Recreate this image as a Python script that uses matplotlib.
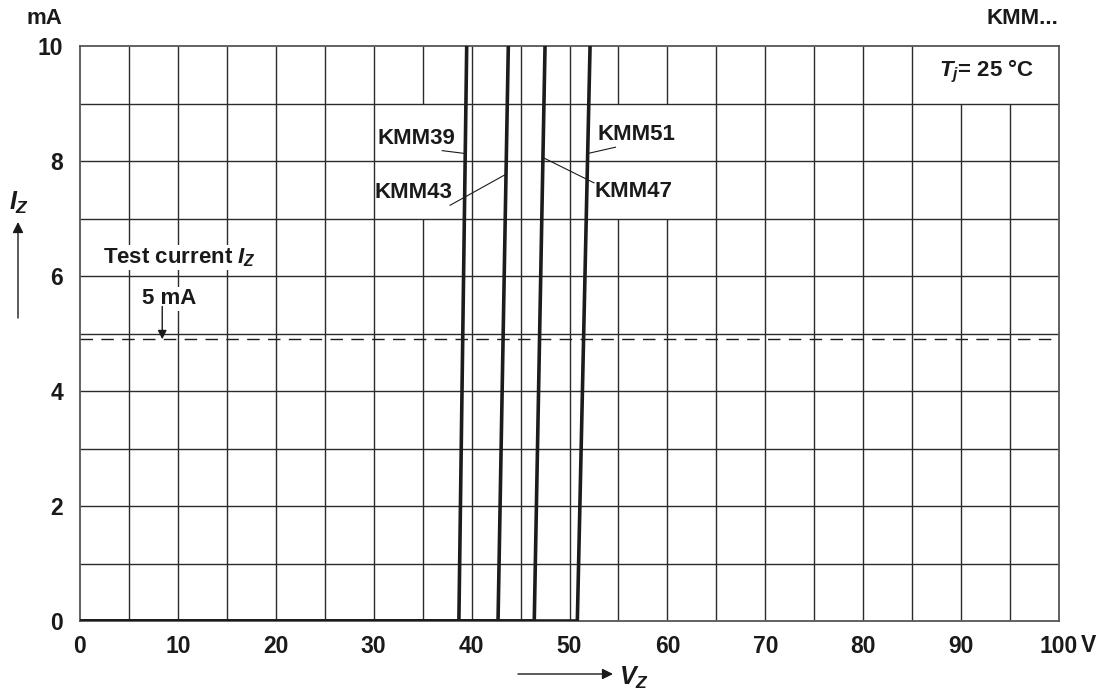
import numpy as np
import matplotlib
matplotlib.use("Agg")
import matplotlib.pyplot as plt
from matplotlib.patches import Rectangle

plt.rcParams['font.family'] = ['Liberation Sans', 'DejaVu Sans']
plt.rcParams['font.weight'] = 'bold'
plt.rcParams['mathtext.fontset'] = 'custom'
plt.rcParams['mathtext.it'] = 'Liberation Sans:italic:bold'
plt.rcParams['mathtext.rm'] = 'Liberation Sans:bold'

# Zener characteristics: V_Z at I_Z = 0, 0 and 10 mA
iz_points = [0, 0, 10]
vz_kmm39 = [0, 38.7, 39.5]
vz_kmm43 = [0, 42.7, 43.75]
vz_kmm47 = [0, 46.4, 47.5]
vz_kmm51 = [0, 50.8, 52.1]
names = ['KMM39', 'KMM43', 'KMM47', 'KMM51']
test_current = 4.9

x_ticks = [0, 10, 20, 30, 40, 50, 60, 70, 80, 90, 100]
y_ticks = [0, 2, 4, 6, 8, 10]

W, H = 1099, 693
fig = plt.figure(figsize=(W / 100, H / 100), dpi=100)
ax = fig.add_axes([80 / W, (H - 621) / H, 979 / W, 575 / H])
ax.set_xlim(0, 100)
ax.set_ylim(0, 10)

gc = '#2b2b2b'
ax.vlines(np.arange(5, 100, 5), 0, 10, color=gc, lw=1.0, zorder=1)
# blank patches behind the labels (hide the vertical grid only)
for (x0, y0, w, h) in [(31.0, 7, 6.9, 2), (52.6, 7, 9.0, 2), (86.5, 9, 13.4, 1)]:
    ax.add_patch(Rectangle((x0, y0), w, h, facecolor='white', edgecolor='none', zorder=1.5))
ax.hlines(np.arange(1, 10, 1), 0, 100, color=gc, lw=1.0, zorder=2)

for s in ax.spines.values():
    s.set_color('#555555')
    s.set_linewidth(1.3)
    s.set_zorder(2.5)

curves = [vz_kmm39, vz_kmm43, vz_kmm47, vz_kmm51]
for vz, name in zip(curves, names):
    ax.plot(vz, iz_points, color='#1c1c1c', lw=2.6, solid_capstyle='butt', zorder=3, label=name)

ax.axhline(test_current, color='#1c1c1c', lw=1.0, dashes=(9, 6), zorder=2.2)

ax.set_xticks(x_ticks)
ax.set_xticklabels([str(v) for v in x_ticks])
ax.set_yticks(y_ticks)
ax.set_yticklabels([str(v) for v in y_ticks])
ax.tick_params(axis='both', length=0, labelsize=16.5, colors='#1a1a1a')
ax.tick_params(axis='x', pad=10)
ax.tick_params(axis='y', pad=12)
ax.annotate('V', xy=(100, 0), xytext=(16, -17.5), textcoords='offset points',
            ha='left', va='center', fontsize=16.5, color='#1a1a1a')

# curve labels with leader lines
tk = dict(fontsize=16, color='#1a1a1a', va='center')
ax.text(30.35, 8.4, 'KMM39', ha='left', **tk)
ax.text(30.1, 7.46, 'KMM43', ha='left', **tk)
ax.text(52.9, 8.46, 'KMM51', ha='left', **tk)
ax.text(52.6, 7.47, 'KMM47', ha='left', **tk)

lk = dict(color='#1c1c1c', lw=0.8, zorder=2.8)
i = 8.13
ax.plot([37.0, np.interp(i, iz_points[1:], vz_kmm39[1:])], [8.18, i], **lk)
i = 7.77
ax.plot([37.8, np.interp(i, iz_points[1:], vz_kmm43[1:])], [7.23, i], **lk)
i = 8.06
ax.plot([np.interp(i, iz_points[1:], vz_kmm47[1:]), 52.5], [i, 7.62], **lk)
i = 8.13
ax.plot([np.interp(i, iz_points[1:], vz_kmm51[1:]), 54.7], [i, 8.24], **lk)

# test current annotation
ax.text(2.35, 6.32, 'Test current $I_Z$', ha='left', va='center', fontsize=16,
        color='#1a1a1a', zorder=1.7,
        bbox=dict(facecolor='white', edgecolor='none', pad=1.0))
ax.text(9.1, 5.6, '5 mA', ha='center', va='center', fontsize=16, color='#1a1a1a',
        zorder=1.7, bbox=dict(facecolor='white', edgecolor='none', pad=1.0))
ax.annotate('', xy=(8.4, test_current), xytext=(8.4, 5.47),
            arrowprops=dict(arrowstyle='-|>', color='#1a1a1a', lw=1.0,
                            mutation_scale=13, shrinkA=0, shrinkB=0), zorder=3)

ax.text(92.6, 9.55, '$T_j$= 25 °C', ha='center', va='center', fontsize=16, color='#1a1a1a')

# axis captions outside the frame
fig.text(44 / W, 1 - 18 / H, 'mA', ha='center', va='center', fontsize=16, color='#1a1a1a')
fig.text(1058 / W, 1 - 18 / H, 'KMM...', ha='right', va='center', fontsize=16, color='#1a1a1a')

fig.text(19 / W, 1 - 203 / H, '$I_Z$', ha='center', va='center', fontsize=18, color='#1a1a1a')
ax.annotate('', xy=(18, H - 222), xycoords='figure pixels', xytext=(18, H - 318),
            textcoords='figure pixels',
            arrowprops=dict(arrowstyle='-|>', color='#1a1a1a', lw=1.0, mutation_scale=16,
                            shrinkA=0, shrinkB=0), annotation_clip=False)

fig.text(634 / W, 1 - 678 / H, '$V_Z$', ha='center', va='center', fontsize=18, color='#1a1a1a')
ax.annotate('', xy=(613, H - 674), xycoords='figure pixels', xytext=(518, H - 674),
            textcoords='figure pixels',
            arrowprops=dict(arrowstyle='-|>', color='#1a1a1a', lw=1.0, mutation_scale=16,
                            shrinkA=0, shrinkB=0), annotation_clip=False)

fig.savefig('out.png', dpi=100, facecolor='white')
